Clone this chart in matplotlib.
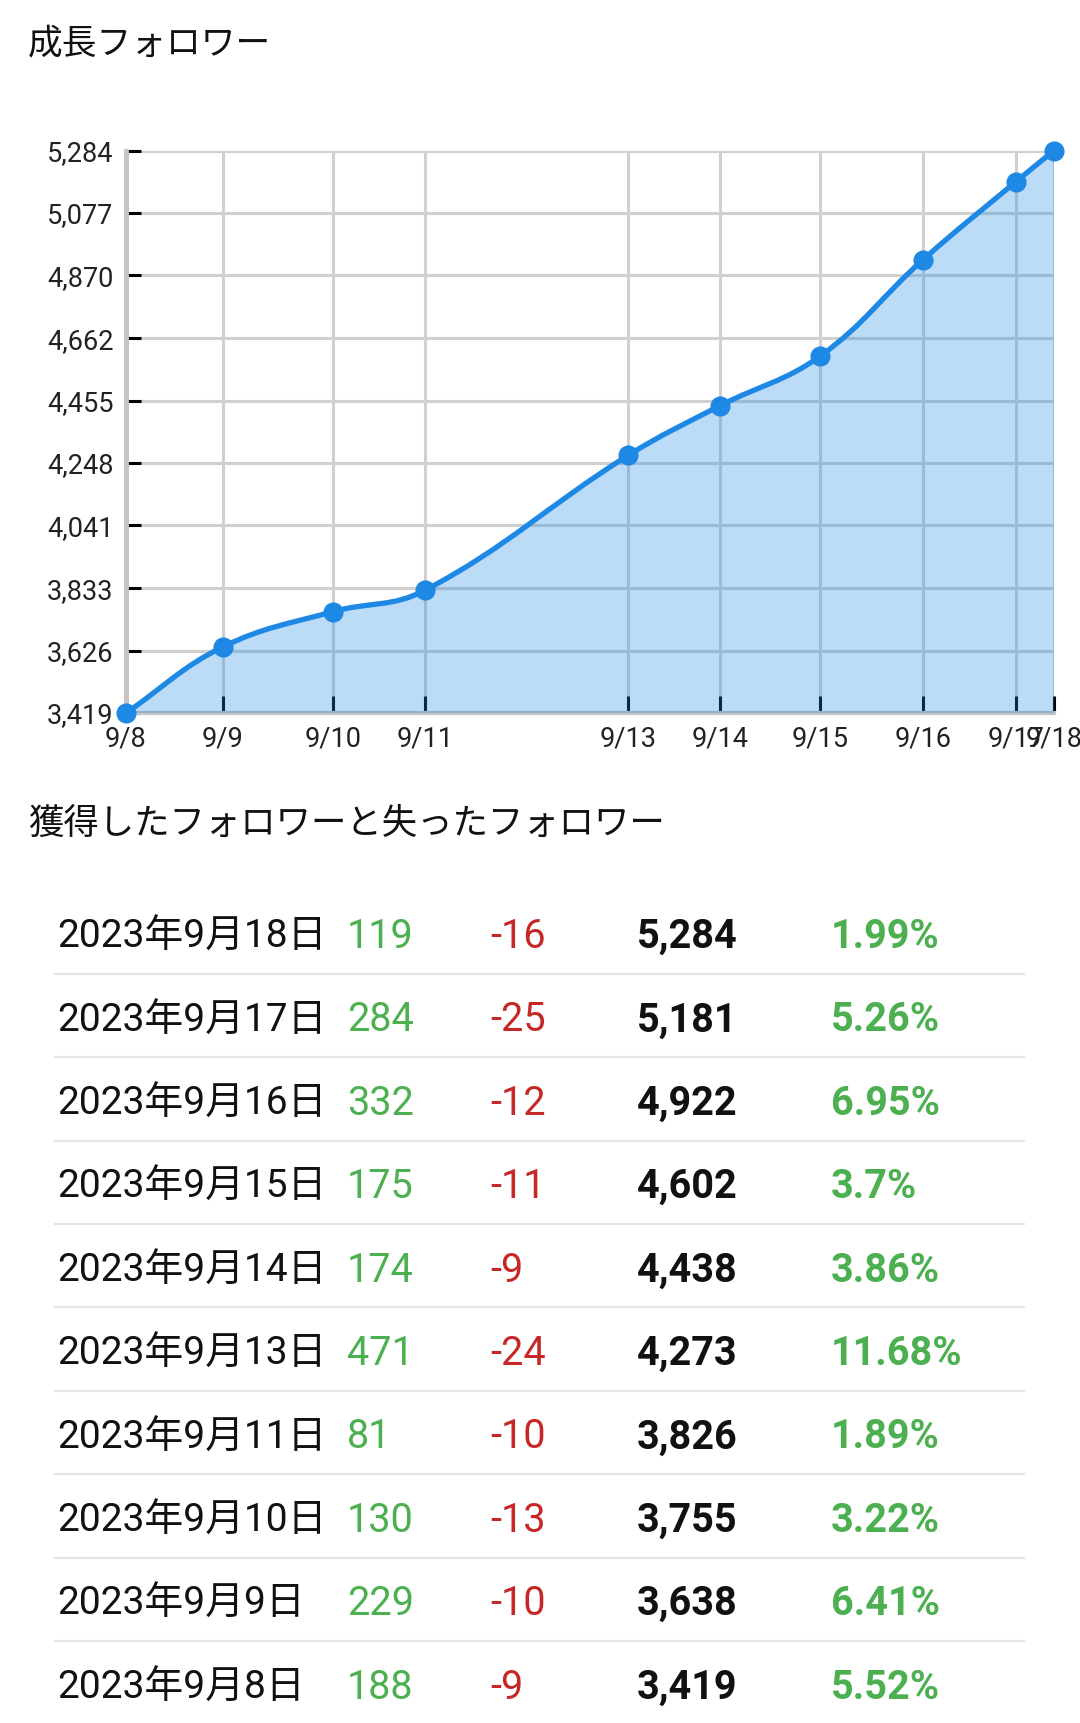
import numpy as np
import matplotlib
matplotlib.use('Agg')
import matplotlib.pyplot as plt
from matplotlib.path import Path
from matplotlib.patches import PathPatch
from matplotlib.lines import Line2D

plt.rcParams['font.family'] = ['Roboto', 'Noto Sans CJK JP', 'DejaVu Sans']

# chart data (x = capture time in days after 9/8)
day_labels = ['9/8', '9/9', '9/10', '9/11', '9/13', '9/14', '9/15', '9/16', '9/17', '9/18']
day_pos = [0.0, 0.967, 2.067, 2.99, 5.02, 5.94, 6.94, 7.97, 8.90, 9.28]
followers = [3419, 3638, 3755, 3826, 4273, 4438, 4602, 4922, 5181, 5284]
y_ticks = [3419, 3626, 3833, 4041, 4248, 4455, 4662, 4870, 5077, 5284]
y_tick_labels = ['3,419', '3,626', '3,833', '4,041', '4,248', '4,455', '4,662', '4,870', '5,077', '5,284']

# table data
dates = ['2023年9月18日', '2023年9月17日', '2023年9月16日', '2023年9月15日', '2023年9月14日',
         '2023年9月13日', '2023年9月11日', '2023年9月10日', '2023年9月9日', '2023年9月8日']
gained = ['119', '284', '332', '175', '174', '471', '81', '130', '229', '188']
lost = ['-16', '-25', '-12', '-11', '-9', '-24', '-10', '-13', '-10', '-9']
totals = ['5,284', '5,181', '4,922', '4,602', '4,438', '4,273', '3,826', '3,755', '3,638', '3,419']
growth = ['1.99%', '5.26%', '6.95%', '3.7%', '3.86%', '11.68%', '1.89%', '3.22%', '6.41%', '5.52%']

W, H = 1080, 1723
BLUE = '#1e88e5'
GREEN = '#4caf50'
RED = '#c62828'

fig = plt.figure(figsize=(W / 100, H / 100), dpi=100)
fig.patch.set_facecolor('white')


def fx(px):
    return px / W


def fy(py):
    return 1 - py / H


cjk = ['Noto Sans CJK JP', 'DejaVu Sans']
fig.text(fx(28), fy(44), '成長フォロワー', fontsize=25, family=cjk, va='center', ha='left', color='#111111')
fig.text(fx(28), fy(824), '獲得したフォロワーと失ったフォロワー', fontsize=25.5, family=cjk,
         va='center', ha='left', color='#111111')

# ---- chart ----
ax = fig.add_axes([fx(126), fy(713), fx(1054) - fx(126), fy(150.6) - fy(713)])
ax.set_xlim(day_pos[0], day_pos[-1])
ax.set_ylim(followers[0], followers[-1])
ax.set_axisbelow(True)

ax.set_xticks(day_pos, day_labels)
ax.set_yticks(y_ticks, y_tick_labels)
ax.tick_params(axis='y', direction='in', length=11, width=2.2, color='black', pad=9,
               labelsize=19.5, labelcolor='#222222')
ax.tick_params(axis='x', direction='in', length=12, width=2.2, color='black', pad=9,
               labelsize=19.5, labelcolor='#222222')
ax.grid(True, color='#d0d0d0', linewidth=2.2)
for s in ['top', 'right']:
    ax.spines[s].set_visible(False)
ax.spines['left'].set_color('#c4c4c4')
ax.spines['left'].set_linewidth(3.5)
ax.spines['bottom'].set_color('#c4c4c4')
ax.spines['bottom'].set_linewidth(3)
ax.spines['left'].set_zorder(0.6)
ax.spines['bottom'].set_zorder(0.6)

# smooth curve like chart.js (tension) computed in pixel space
pts = ax.transData.transform(np.column_stack([day_pos, followers]))
t = 0.4
n = len(pts)
cp_prev = np.zeros_like(pts)
cp_next = np.zeros_like(pts)
for i in range(n):
    cur = pts[i]
    prv = pts[i - 1] if i > 0 else cur
    nxt = pts[i + 1] if i < n - 1 else cur
    d01 = np.hypot(*(cur - prv))
    d12 = np.hypot(*(nxt - cur))
    s01 = d01 / (d01 + d12)
    s12 = d12 / (d01 + d12)
    cp_prev[i] = cur - t * s01 * (nxt - prv)
    cp_next[i] = cur + t * s12 * (nxt - prv)

verts = [pts[0]]
codes = [Path.MOVETO]
for i in range(n - 1):
    verts += [cp_next[i], cp_prev[i + 1], pts[i + 1]]
    codes += [Path.CURVE4] * 3
inv = ax.transData.inverted()
verts_d = inv.transform(np.array(verts))

line_path = Path(verts_d, codes)
fill_verts = np.vstack([verts_d, [[day_pos[-1], followers[0]], [day_pos[0], followers[0]], verts_d[0]]])
fill_codes = codes + [Path.LINETO, Path.LINETO, Path.CLOSEPOLY]
fill_path = Path(fill_verts, fill_codes)

ax.add_patch(PathPatch(fill_path, facecolor=BLUE, alpha=0.3, edgecolor='none', zorder=1))
ax.add_patch(PathPatch(line_path, facecolor='none', edgecolor=BLUE, linewidth=3.8,
                       capstyle='round', joinstyle='round', zorder=3, clip_on=False))
ax.plot(day_pos, followers, 'o', color=BLUE, markersize=13.5, zorder=4, clip_on=False)

# ---- table ----
row0 = 934
row_h = 83.4
cols = [57, 347, 490, 637, 831]
fs = 28.5
for i in range(len(dates)):
    yc = row0 + i * row_h
    yb = fy(yc + 14)
    fig.text(fx(cols[0]), yb, dates[i], fontsize=28, va='baseline', color='#111111')
    fig.text(fx(cols[1]), yb, gained[i], fontsize=fs, va='baseline', color=GREEN)
    fig.text(fx(cols[2]), yb, lost[i], fontsize=fs, va='baseline', color=RED)
    fig.text(fx(cols[3]), yb, totals[i], fontsize=fs, va='baseline', color='#111111', fontweight='bold')
    fig.text(fx(cols[4]), yb, growth[i], fontsize=fs, va='baseline', color=GREEN, fontweight='bold')
    if i < len(dates) - 1:
        ys = fy(yc + row_h / 2 - 2)
        fig.add_artist(Line2D([fx(55), fx(1024)], [ys, ys], color='#e6e6e6', linewidth=1.6,
                              transform=fig.transFigure))

fig.savefig('out.png', dpi=100, facecolor='white')
